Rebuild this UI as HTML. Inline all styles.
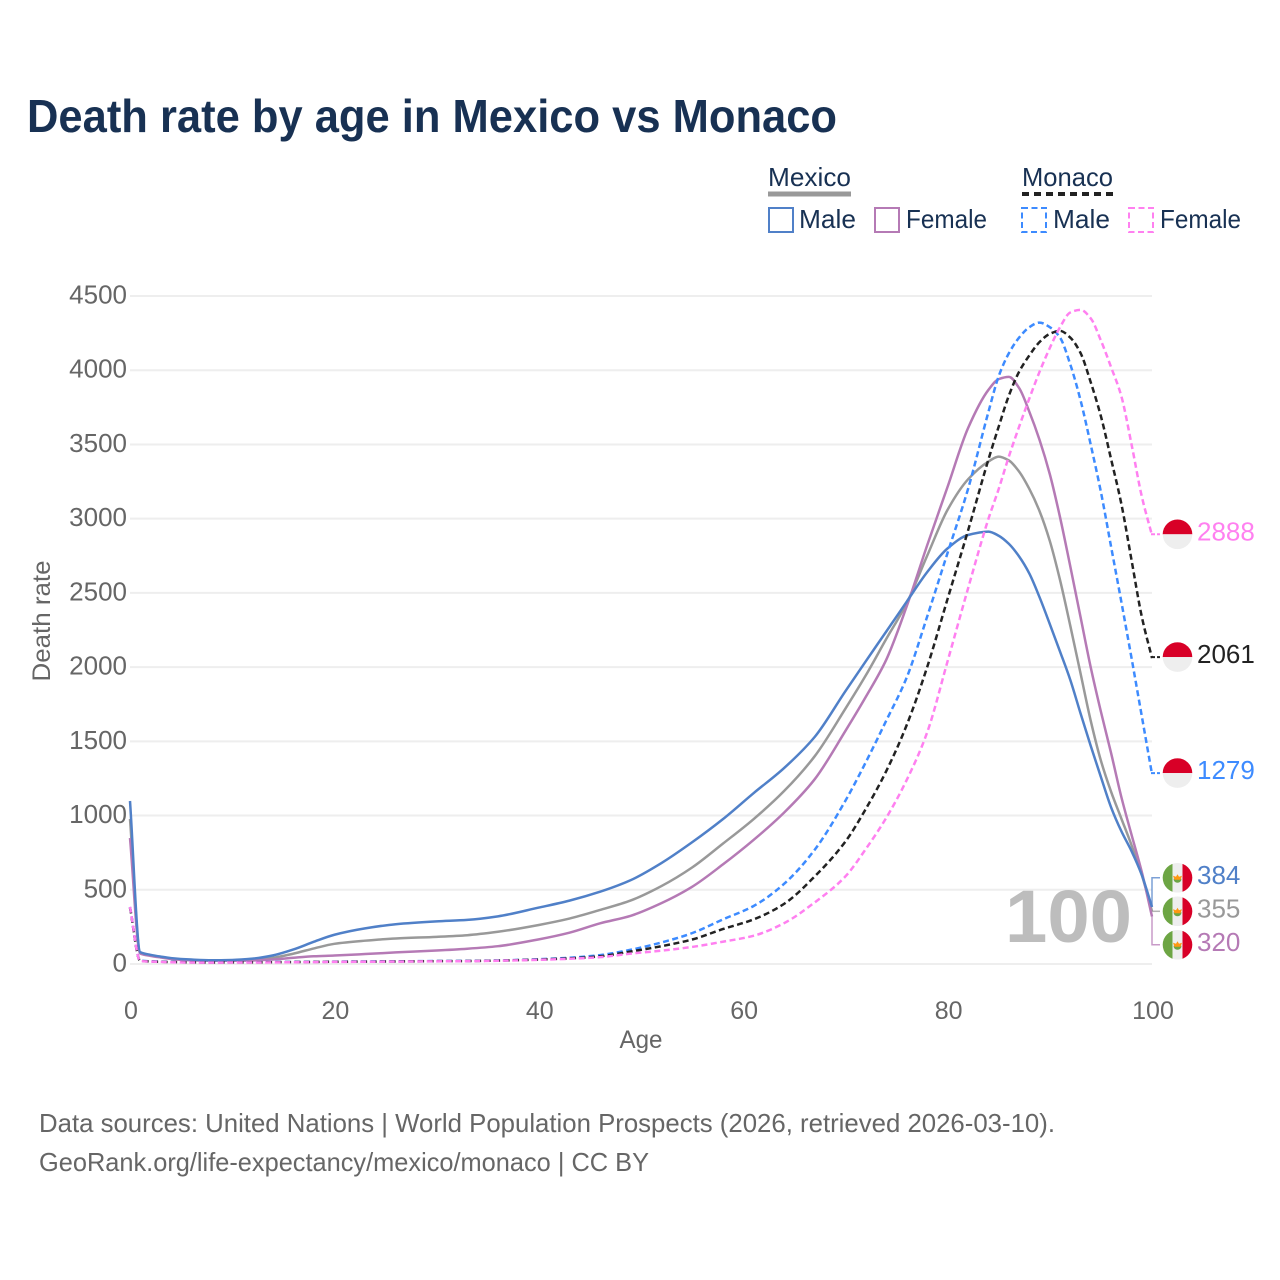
<!DOCTYPE html>
<html lang="en">
<head>
<meta charset="utf-8">
<title>Death rate by age in Mexico vs Monaco</title>
<style>
html,body{margin:0;padding:0;background:#fff;}
svg{display:block;font-family:"Liberation Sans",sans-serif;}
</style>
</head>
<body>
<svg id="chart" xmlns="http://www.w3.org/2000/svg" width="1280" height="1280" viewBox="0 0 1280 1280">
  <defs>
    <clipPath id="flag-clip"><circle cx="0" cy="0" r="14.8"/></clipPath>
  </defs>
  <rect x="0" y="0" width="1280" height="1280" fill="#fff"/>
  <text x="27" y="132" font-size="46" font-weight="700" fill="#183153" textLength="810" lengthAdjust="spacingAndGlyphs">Death rate by age in Mexico vs Monaco</text>

  <g font-size="26" fill="#183153">
    <text x="768" y="186" textLength="83" lengthAdjust="spacingAndGlyphs">Mexico</text>
    <line x1="768" x2="851" y1="194" y2="194" stroke="#999" stroke-width="5"/>
    <text x="1022" y="186" textLength="91" lengthAdjust="spacingAndGlyphs">Monaco</text>
    <line x1="1022" x2="1113" y1="194" y2="194" stroke="#222" stroke-width="4" stroke-dasharray="7 5"/>

    <g>
      <rect x="769" y="208" width="24" height="24" fill="none" stroke="#5080c8" stroke-width="2"/>
      <text x="799" y="228" textLength="57" lengthAdjust="spacingAndGlyphs">Male</text>
    </g>
    <g>
      <rect x="875" y="208" width="24" height="24" fill="none" stroke="#b57ab5" stroke-width="2"/>
      <text x="906" y="228" textLength="81" lengthAdjust="spacingAndGlyphs">Female</text>
    </g>
    <g>
      <rect x="1022" y="208" width="24" height="24" fill="none" stroke="#3d8bff" stroke-width="2" stroke-dasharray="6 3.5"/>
      <text x="1053" y="228" textLength="57" lengthAdjust="spacingAndGlyphs">Male</text>
    </g>
    <g>
      <rect x="1129" y="208" width="24" height="24" fill="none" stroke="#ff80f0" stroke-width="2" stroke-dasharray="6 3.5"/>
      <text x="1160" y="228" textLength="81" lengthAdjust="spacingAndGlyphs">Female</text>
    </g>
  </g>

  <g id="grid"></g>
  <g id="y-ticks" font-size="26" fill="#666"></g>
  <g id="x-ticks" font-size="25" fill="#666"></g>

  <text transform="translate(50 621) rotate(-90)" text-anchor="middle" font-size="25" fill="#666" textLength="121" lengthAdjust="spacingAndGlyphs">Death rate</text>
  <text x="641" y="1048" text-anchor="middle" font-size="25" fill="#666" textLength="43" lengthAdjust="spacingAndGlyphs">Age</text>

  <text x="1005" y="942" font-size="74" font-weight="700" fill="#bdbdbd" textLength="127" lengthAdjust="spacingAndGlyphs">100</text>

  <g id="leaders"></g>
  <g id="series"></g>
  <g id="end-labels"></g>

  <g font-size="26" fill="#666">
    <text x="39" y="1132" textLength="1016" lengthAdjust="spacingAndGlyphs">Data sources: United Nations | World Population Prospects (2026, retrieved 2026-03-10).</text>
    <text x="39" y="1171" textLength="610" lengthAdjust="spacingAndGlyphs">GeoRank.org/life-expectancy/mexico/monaco | CC BY</text>
  </g>
</svg>

<script>
const ages = [0,1,2,3,4,6,8,10,12,14,16,18,20,23,26,30,33,36,40,43,46,49,52,55,58,61,64,67,70,72,74,76,78,80,82,84,85,86,87,88,89,90,91,92,93,94,95,96,97,98,99,100];
const mexicoMale = [1098,80,62,50,40,30,25,27,36,58,98,150,197,240,268,287,297,321,380,427,487,565,680,820,975,1150,1320,1530,1838,2040,2240,2441,2640,2800,2890,2913,2885,2830,2745,2630,2470,2290,2105,1915,1690,1470,1260,1055,895,760,600,384];
const mexicoBoth = [977,75,58,46,36,27,23,24,28,42,70,105,136,157,172,183,194,217,263,306,364,428,525,650,810,975,1165,1400,1720,1945,2190,2431,2750,3060,3265,3385,3418,3392,3317,3200,3050,2850,2587,2280,1960,1640,1370,1160,980,800,600,355];
const mexicoFemale = [849,70,55,44,34,25,22,22,24,30,42,52,57,67,78,91,103,120,166,211,274,325,410,520,670,835,1020,1245,1570,1800,2050,2410,2820,3215,3610,3868,3940,3955,3880,3720,3530,3300,3010,2680,2340,2000,1700,1420,1125,870,620,320];
const monacoMale = [384,22,18,16,14,12,11,12,12,13,14,15,16,17,18,20,21,24,32,42,60,96,145,208,300,390,540,770,1100,1360,1640,1930,2340,2770,3200,3720,3960,4115,4220,4290,4321,4290,4220,4040,3800,3500,3180,2810,2440,2060,1670,1279];
const monacoBoth = [380,21,17,15,13,11,10,11,11,12,13,14,15,16,17,19,20,23,30,38,52,84,120,165,235,300,405,590,825,1045,1300,1610,2000,2460,2920,3400,3620,3830,3990,4100,4190,4245,4265,4220,4117,3920,3690,3400,3100,2720,2340,2061];
const monacoFemale = [385,20,16,14,12,10,9,10,10,11,12,13,14,15,16,18,19,22,28,35,46,70,90,115,150,190,275,415,590,775,985,1240,1560,2040,2530,3000,3200,3420,3620,3810,3990,4150,4290,4389,4407,4350,4200,4020,3825,3500,3150,2888];
const yTickValues = [0,500,1000,1500,2000,2500,3000,3500,4000,4500];
const xTickValues = [0,20,40,60,80,100];

const SVG_NS = 'http://www.w3.org/2000/svg';
const xScale = age => 130 + (age / 100) * 1022;
const yScale = value => 964 - (value / 4500) * 668;

function make(tag, attrs, parent) {
  const el = document.createElementNS(SVG_NS, tag);
  Object.keys(attrs).forEach(k => el.setAttribute(k, attrs[k]));
  parent.appendChild(el);
  return el;
}

function monotonePath(xs, ys) {
  const n = xs.length;
  const d = [], m = new Array(n);
  for (let i = 0; i < n - 1; i++) d.push((ys[i + 1] - ys[i]) / (xs[i + 1] - xs[i]));
  m[0] = d[0];
  m[n - 1] = d[n - 2];
  for (let i = 1; i < n - 1; i++) {
    if (d[i - 1] * d[i] <= 0) { m[i] = 0; continue; }
    const h0 = xs[i] - xs[i - 1], h1 = xs[i + 1] - xs[i];
    const w1 = 2 * h1 + h0, w2 = h1 + 2 * h0;
    m[i] = (w1 + w2) / (w1 / d[i - 1] + w2 / d[i]);
  }
  let path = 'M' + xs[0].toFixed(2) + ' ' + ys[0].toFixed(2);
  for (let i = 0; i < n - 1; i++) {
    const h = (xs[i + 1] - xs[i]) / 3;
    path += 'C' + (xs[i] + h).toFixed(2) + ' ' + (ys[i] + m[i] * h).toFixed(2) + ' ' +
      (xs[i + 1] - h).toFixed(2) + ' ' + (ys[i + 1] - m[i + 1] * h).toFixed(2) + ' ' +
      xs[i + 1].toFixed(2) + ' ' + ys[i + 1].toFixed(2);
  }
  return path;
}

const gridGroup = document.getElementById('grid');
const yTickGroup = document.getElementById('y-ticks');
const xTickGroup = document.getElementById('x-ticks');
const leaderGroup = document.getElementById('leaders');
const seriesGroup = document.getElementById('series');
const endGroup = document.getElementById('end-labels');

yTickValues.forEach(v => {
  const line = make('line', {x1: 130, x2: 1152, y1: yScale(v), y2: yScale(v), stroke: '#eeeeee', 'stroke-width': 2}, gridGroup);
  
  
  const label = make('text', {x: 127, y: yScale(v) + 7.5, 'text-anchor': 'end'}, yTickGroup);
  label.textContent = String(v);
  
  
});

xTickValues.forEach(v => {
  const label = make('text', {x: xScale(v) + 1, y: 1019, 'text-anchor': 'middle'}, xTickGroup);
  label.textContent = String(v);
  
  
});

const seriesList = [
  {key: 'mexico-both', values: mexicoBoth, color: '#999999', dash: '', country: 'mexico', slot: 0},
  {key: 'mexico-female', values: mexicoFemale, color: '#b57ab5', dash: '', country: 'mexico', slot: 1},
  {key: 'mexico-male', values: mexicoMale, color: '#5080c8', dash: '', country: 'mexico', slot: -1},
  {key: 'monaco-male', values: monacoMale, color: '#3d8bff', dash: '6 3.5', country: 'monaco', slot: 0},
  {key: 'monaco-both', values: monacoBoth, color: '#222222', dash: '6 3.5', country: 'monaco', slot: 0},
  {key: 'monaco-female', values: monacoFemale, color: '#ff80f0', dash: '6 3.5', country: 'monaco', slot: 0}
];

const xs = ages.map(xScale);
const mexicoAnchor = yScale(mexicoBoth[mexicoBoth.length - 1]);

seriesList.forEach(s => {
  const ys = s.values.map(yScale);
  const path = make('path', {d: monotonePath(xs, ys), fill: 'none', stroke: s.color, 'stroke-width': 2.5, 'stroke-linejoin': 'round'}, seriesGroup);
  if (s.dash) path.setAttribute('stroke-dasharray', s.dash);
  
  

  const last = s.values[s.values.length - 1];
  const endY = yScale(last);
  const labelY = s.country === 'mexico' ? mexicoAnchor + s.slot * 33.5 : endY - 1;

  const leader = make('path', {
    d: 'M1152 ' + endY.toFixed(1) + 'L1152 ' + labelY.toFixed(1) + 'L1160 ' + labelY.toFixed(1),
    fill: 'none', stroke: s.color, 'stroke-width': s.dash ? 2 : 1.5, opacity: s.dash ? 1 : 0.75
  }, leaderGroup);
  if (s.dash) leader.setAttribute('stroke-dasharray', '4 2');
  
  

  const flag = make('g', {transform: 'translate(1177.5 ' + labelY.toFixed(1) + ')'}, endGroup);
  
  
  const inner = make('g', {'clip-path': 'url(#flag-clip)'}, flag);
  if (s.country === 'mexico') {
    make('rect', {x: -15, y: -15, width: 10, height: 30, fill: '#6da544'}, inner);
    make('rect', {x: -5, y: -15, width: 10, height: 30, fill: '#eeeeee'}, inner);
    make('rect', {x: 5, y: -15, width: 10, height: 30, fill: '#d80027'}, inner);
    make('path', {d: 'M-4 1A4 4 0 0 0 4 1Z', fill: '#6da544'}, inner);
    make('path', {d: 'M-4.5 -2L-1.5 -1L0 -3.5L1.5 -1L4.5 -2L3 2L-3 2Z', fill: '#ff9811'}, inner);
  } else {
    make('rect', {x: -15, y: -15, width: 30, height: 15, fill: '#d80027'}, inner);
    make('rect', {x: -15, y: 0, width: 30, height: 15, fill: '#eeeeee'}, inner);
  }

  const label = make('text', {x: 1197, y: labelY + 6, 'font-size': 26, fill: s.color}, endGroup);
  label.textContent = String(last);
  
  
});
</script>
</body>
</html>
